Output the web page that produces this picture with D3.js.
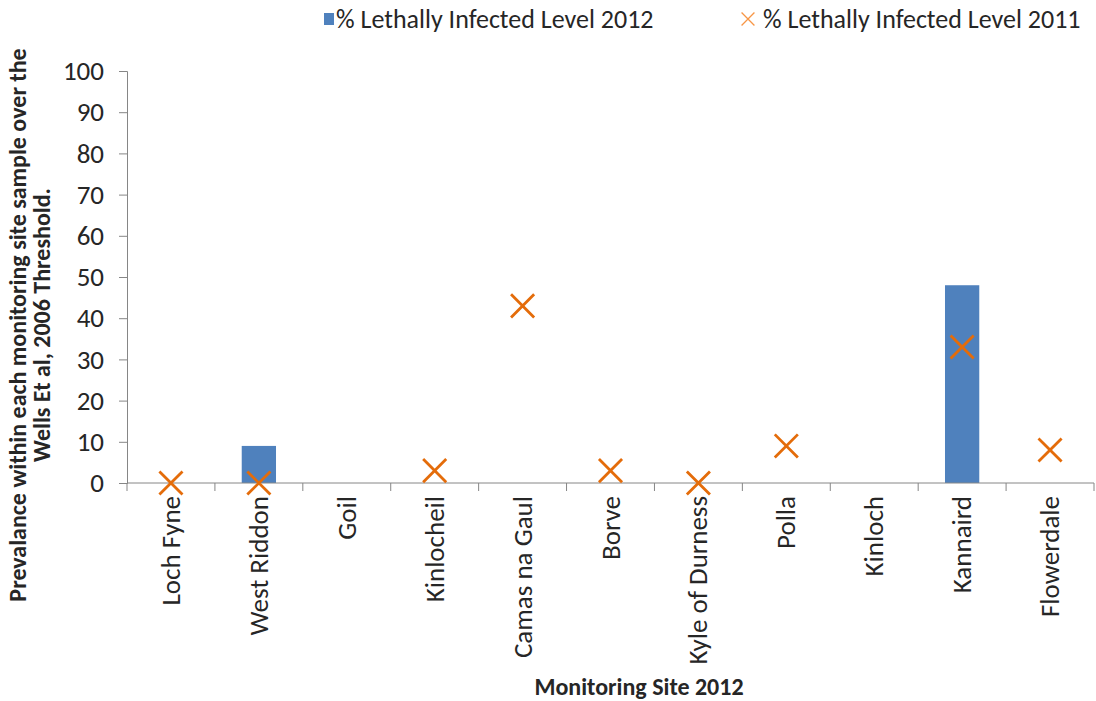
<!DOCTYPE html>
<html>
<head>
<meta charset="utf-8">
<script src="https://cdn.jsdelivr.net/npm/d3@7"></script>
<style>
  body { margin: 0; background: #fff; }
  svg text { font-family: Carlito, "Liberation Sans Narrow", "Liberation Sans", sans-serif; fill: #262626; }
</style>
</head>
<body>
<svg id="chart" width="1096" height="701"></svg>
<script>
var sites = ["Loch Fyne", "West Riddon", "Goil", "Kinlocheil", "Camas na Gaul", "Borve",
  "Kyle of Durness", "Polla", "Kinloch", "Kannaird", "Flowerdale"];
var level2012 = [0, 9, 0, 0, 0, 0, 0, 0, 0, 48, 0];
var level2011 = [0, 0, null, 3, 43, 3, 0, 9, null, 33, 8];
var yTicks = [0, 10, 20, 30, 40, 50, 60, 70, 80, 90, 100];

var svg = d3.select("#chart"),
  width = +svg.attr("width"),
  height = +svg.attr("height");

var plotL = 127, plotR = 1094, plotT = 71, plotB = 483;
var blue = "#4F81BD", orange = "#E46C0A", axisGrey = "#868686";

var x = d3.scaleBand().domain(sites).range([plotL, plotR]).padding(0);
var y = d3.scaleLinear().domain([0, 100]).range([plotB, plotT]);

// y axis
var yAxis = svg.append("g")
  .attr("transform", "translate(" + plotL + ",0)")
  .call(d3.axisLeft(y).tickValues(yTicks).tickSize(8).tickPadding(15));
yAxis.select(".domain").attr("stroke", axisGrey);
yAxis.selectAll(".tick line").attr("stroke", axisGrey);
yAxis.selectAll(".tick text").style("font-size", "27px").attr("fill", "#262626");

// bars
var barW = x.bandwidth() * 0.39;
svg.selectAll(".bar")
  .data(sites.map(function(d, i) { return {site: d, v: level2012[i]}; }))
  .enter().append("rect")
    .attr("class", "bar")
    .attr("x", function(d) { return x(d.site) + (x.bandwidth() - barW) / 2; })
    .attr("y", function(d) { return y(d.v); })
    .attr("width", barW)
    .attr("height", function(d) { return y(0) - y(d.v); })
    .attr("fill", blue);

// x axis line + ticks between categories
svg.append("line")
  .attr("x1", plotL).attr("x2", plotR)
  .attr("y1", y(0)).attr("y2", y(0))
  .attr("stroke", axisGrey);
var bounds = sites.map(function(d) { return x(d); }).concat([plotR]);
svg.selectAll(".xtick")
  .data(bounds)
  .enter().append("line")
    .attr("x1", function(d) { return d; }).attr("x2", function(d) { return d; })
    .attr("y1", y(0)).attr("y2", y(0) + 8)
    .attr("stroke", axisGrey);

// category labels
svg.selectAll(".xlab")
  .data(sites)
  .enter().append("text")
    .attr("transform", function(d) {
      return "translate(" + (x(d) + x.bandwidth() / 2 + 9) + "," + (y(0) + 13) + ") rotate(-90)";
    })
    .attr("text-anchor", "end")
    .style("font-size", "27px")
    .text(function(d) { return d; });

// crosses for 2011
var cross = d3.symbol().type(d3.symbolX).size(350);
svg.selectAll(".pt")
  .data(sites.map(function(d, i) { return {site: d, v: level2011[i]}; })
    .filter(function(d) { return d.v !== null; }))
  .enter().append("path")
    .attr("d", cross)
    .attr("transform", function(d) {
      return "translate(" + (x(d.site) + x.bandwidth() / 2) + "," + y(d.v) + ")";
    })
    .attr("fill", "none")
    .attr("stroke", orange)
    .attr("stroke-width", 2.8);

// axis titles
svg.append("text")
  .attr("x", 639).attr("y", 695)
  .attr("text-anchor", "middle")
  .style("font-size", "24px").style("font-weight", "bold")
  .text("Monitoring Site 2012");

var yt = svg.append("text")
  .attr("transform", "translate(26,325) rotate(-90)")
  .attr("text-anchor", "middle")
  .style("font-size", "24px").style("font-weight", "bold");
yt.append("tspan").attr("x", 0).attr("dy", 0)
  .text("Prevalance within each monitoring site sample over the");
yt.append("tspan").attr("x", 0).attr("dy", 24)
  .text("Wells Et al, 2006 Threshold.");

// legend
var lg = svg.append("g");
lg.append("rect").attr("x", 324).attr("y", 13).attr("width", 10).attr("height", 12).attr("fill", blue);
lg.append("text").attr("x", 336).attr("y", 28).style("font-size", "26px")
  .text("% Lethally Infected Level 2012");
lg.append("path")
  .attr("d", d3.symbol().type(d3.symbolX).size(110))
  .attr("transform", "translate(748,19)")
  .attr("fill", "none").attr("stroke", "#F79646").attr("stroke-width", 1.3);
lg.append("text").attr("x", 763).attr("y", 28).style("font-size", "26px")
  .text("% Lethally Infected Level 2011");
</script>
</body>
</html>
